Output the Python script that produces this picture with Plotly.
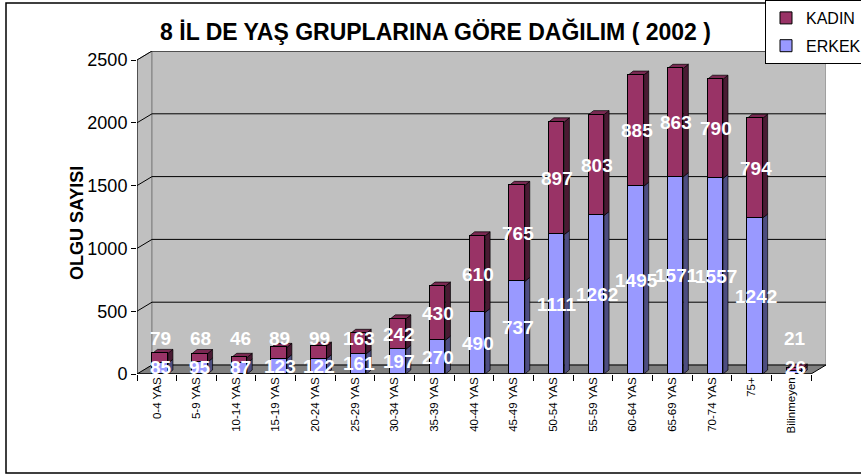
import plotly.graph_objects as go

categories = ["0-4 YAS", "5-9 YAS", "10-14 YAS", "15-19 YAS", "20-24 YAS", "25-29 YAS",
              "30-34 YAS", "35-39 YAS", "40-44 YAS", "45-49 YAS", "50-54 YAS", "55-59 YAS",
              "60-64 YAS", "65-69 YAS", "70-74 YAS", "75+", "Bilinmeyen"]
erkek = [85, 95, 87, 123, 122, 161, 197, 270, 490, 737, 1111, 1262, 1495, 1571, 1557, 1242, 26]
kadin = [79, 68, 46, 89, 99, 163, 242, 430, 610, 765, 897, 803, 885, 863, 790, 794, 21]
y_ticks = [0, 500, 1000, 1500, 2000, 2500]

W, H = 861, 474
PL, PR, PT, PB = 137, 826, 51, 374
n = len(categories)
px_per_cat = (811 - PL) / n
DX = 15 / px_per_cat          # depth offset of walls in category units
YMAX = 2500
px_per_val = (PB - 60) / YMAX
DY = 9 / px_per_val           # depth offset in value units
XR = [-0.5, n - 0.5 + DX]
YR = [0, YMAX + DY]

OFF, BW = -0.11, 0.39
ddx = 5 / px_per_cat
ddy = 4 / px_per_val

C_E, C_K = "#9999FF", "#993366"
C_E_SIDE, C_K_SIDE, C_K_TOP = "#4D4D80", "#4A1A33", "#7A2952"
FONT = "Liberation Sans, Arial"

fig = go.Figure()
fig.add_trace(go.Bar(x=categories, y=erkek, name="ERKEK", marker=dict(color=C_E, line=dict(color="black", width=1)),
                     offset=OFF, width=BW, legendgroup="e", legendrank=2))
fig.add_trace(go.Bar(x=categories, y=kadin, name="KADIN", marker=dict(color=C_K, line=dict(color="black", width=1)),
                     offset=OFF, width=BW, legendgroup="k", legendrank=1))

shapes = []
x0 = XR[0]
# side wall
shapes.append(dict(type="path", xref="x", yref="y", layer="below",
                   path=f"M{x0},0 L{x0+DX},{DY} L{x0+DX},{YMAX+DY} L{x0},{YMAX} Z",
                   fillcolor="#C0C0C0", line=dict(color="#808080", width=1)))
# back wall
shapes.append(dict(type="rect", xref="x", yref="y", layer="below",
                   x0=x0 + DX, x1=XR[1], y0=DY, y1=YMAX + DY,
                   fillcolor="#C0C0C0", line=dict(color="#808080", width=1)))
# floor
shapes.append(dict(type="path", xref="x", yref="y", layer="below",
                   path=f"M{x0},0 L{n-0.5},0 L{XR[1]},{DY} L{x0+DX},{DY} Z",
                   fillcolor="#808080", line=dict(color="black", width=1)))
# gridlines
for v in y_ticks[1:]:
    shapes.append(dict(type="path", xref="x", yref="y", layer="below",
                       path=f"M{x0},{v} L{x0+DX},{v+DY} L{XR[1]},{v+DY}",
                       line=dict(color="black", width=1)))
# 3D faces of bars
for i in range(n):
    xl = i + OFF
    xr = xl + BW
    e, k = erkek[i], kadin[i]
    tot = e + k
    shapes.append(dict(type="path", xref="x", yref="y", layer="below",
                       path=f"M{xr},0 L{xr+ddx},{ddy} L{xr+ddx},{e+ddy} L{xr},{e} Z",
                       fillcolor=C_E_SIDE, line=dict(color="black", width=0.7)))
    shapes.append(dict(type="path", xref="x", yref="y", layer="below",
                       path=f"M{xr},{e} L{xr+ddx},{e+ddy} L{xr+ddx},{tot+ddy} L{xr},{tot} Z",
                       fillcolor=C_K_SIDE, line=dict(color="black", width=0.7)))
    shapes.append(dict(type="path", xref="x", yref="y", layer="below",
                       path=f"M{xl},{tot} L{xl+ddx},{tot+ddy} L{xr+ddx},{tot+ddy} L{xr},{tot} Z",
                       fillcolor=C_K_TOP, line=dict(color="black", width=0.7)))
# front axis lines
shapes.append(dict(type="line", xref="x", yref="y", x0=x0, x1=x0, y0=0, y1=YMAX, line=dict(color="black", width=1)))
shapes.append(dict(type="line", xref="x", yref="y", x0=x0, x1=n - 0.5, y0=0, y1=0, line=dict(color="black", width=1)))
# outer frame
pw, ph = PR - PL, PB - PT
shapes.append(dict(type="rect", xref="paper", yref="paper",
                   x0=(6 - PL) / pw, x1=(880 - PL) / pw, y0=(PB - 473) / ph, y1=(PB - 3) / ph,
                   line=dict(color="black", width=1.5)))

annotations = []
for i in range(n):
    e, k = erkek[i], kadin[i]
    annotations.append(dict(x=i, y=max(e / 2, 48), xref="x", yref="y", text=str(e), showarrow=False,
                            xshift=4, font=dict(family=FONT, size=19, color="white", weight="bold")))
    annotations.append(dict(x=i, y=max(e + k / 2, 280), xref="x", yref="y", text=str(k), showarrow=False,
                            xshift=4, font=dict(family=FONT, size=19, color="white", weight="bold")))
annotations.append(dict(x=(65 - PL) / pw, y=(PB - 223) / ph, xref="paper", yref="paper", text="<b>OLGU SAYISI</b>",
                        textangle=-90, showarrow=False, font=dict(family=FONT, size=18, color="black")))

fig.update_layout(
    width=W, height=H,
    margin=dict(l=PL, r=W - PR, t=PT, b=H - PB, autoexpand=False),
    paper_bgcolor="white", plot_bgcolor="white",
    barmode="stack",
    title=dict(text="<b>8 İL DE YAŞ GRUPLARINA GÖRE DAĞILIM ( 2002 )</b>",
               x=435.5 / W, xref="container", xanchor="center",
               y=1 - 32 / H, yref="container", yanchor="middle",
               font=dict(family=FONT, size=23, color="black")),
    xaxis=dict(type="category", range=XR, showgrid=False, zeroline=False, showline=False,
               ticks="outside", tickson="boundaries", ticklen=6, tickcolor="black",
               tickangle=-90, tickfont=dict(family=FONT, size=11.5, color="black")),
    yaxis=dict(range=YR, tickvals=y_ticks, showgrid=False, zeroline=False, showline=False,
               ticks="outside", ticklen=5, tickcolor="black",
               tickfont=dict(family=FONT, size=18, color="black")),
    legend=dict(xref="container", yref="container", x=765 / W, y=1.0, xanchor="left", yanchor="top",
                traceorder="grouped", tracegroupgap=4, itemwidth=30,
                bgcolor="white", bordercolor="black", borderwidth=1,
                font=dict(family=FONT, size=16, color="black")),
    shapes=shapes, annotations=annotations,
    bargap=0,
)

fig.write_html("out.html", config={"displayModeBar": False},
               post_script="document.body.style.margin='0';")
